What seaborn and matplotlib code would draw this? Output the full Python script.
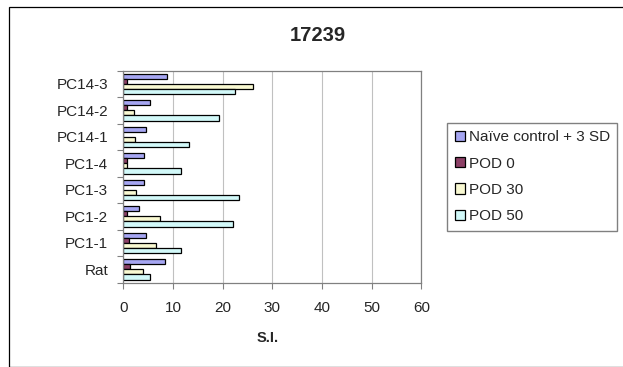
import numpy as np
import pandas as pd
import seaborn as sns
import matplotlib.pyplot as plt
from matplotlib.patches import Rectangle

# values (S.I.)
samples = ["PC14-3", "PC14-2", "PC14-1", "PC1-4", "PC1-3", "PC1-2", "PC1-1", "Rat"]
series = ["Naïve control + 3 SD", "POD 0", "POD 30", "POD 50"]
naive_ctrl = [8.7, 5.3, 4.5, 4.2, 4.2, 3.2, 4.5, 8.3]
pod_0 = [0.7, 0.7, 0.0, 0.7, 0.0, 0.7, 1.1, 1.4]
pod_30 = [26.1, 2.1, 2.4, 0.8, 2.6, 7.3, 6.5, 3.9]
pod_50 = [22.5, 19.2, 13.2, 11.7, 23.3, 22.1, 11.7, 5.3]
colors = ["#9999FF", "#993366", "#FFFFCC", "#CCFFFF"]

rows = []
for name, vals in zip(series, [naive_ctrl, pod_0, pod_30, pod_50]):
	for s, v in zip(samples, vals):
		rows.append({"sample": s, "series": name, "SI": v})
df = pd.DataFrame(rows)

sns.set_style("white")
plt.rcParams['font.family'] = ['Liberation Sans', 'DejaVu Sans']

fig = plt.figure(figsize=(6.23, 3.67), dpi=100)
ax = fig.add_axes([123.3/623, 1-282.7/367, (421.3-123.3)/623, (282.7-70.7)/367])

sns.barplot(data=df, x="SI", y="sample", hue="series", order=samples, hue_order=series,
	palette=colors, edgecolor="black", linewidth=0.9, width=0.76, orient="h", ax=ax)

ax.set_xlim(0, 60)
ax.set_xticks(np.arange(0, 61, 10))
ax.set_ylim(len(samples)-0.5, -0.5)
ax.set_yticks(np.arange(-0.5, len(samples)), minor=True)
ax.xaxis.grid(True, color="#c0c0c0", linewidth=0.8)
ax.set_axisbelow(True)
for sp in ax.spines.values():
	sp.set_visible(True)
	sp.set_color("#808080")
	sp.set_linewidth(0.9)
ax.tick_params(axis="x", which="major", length=4, color="#808080", width=0.8, pad=9, labelsize=11, bottom=True)
ax.tick_params(axis="y", which="major", length=0, pad=11, labelsize=11)
ax.tick_params(axis="y", which="minor", length=4, color="#808080", width=0.8, left=True)
ax.set_xlabel("")
ax.set_ylabel("")

handles, labels = ax.get_legend_handles_labels()
ax.get_legend().remove()
fig.legend(handles, labels, loc="upper left", bbox_to_anchor=(447.3/623, 1-122.7/367),
	fontsize=11, frameon=True, fancybox=False, edgecolor="#808080", framealpha=1,
	handlelength=0.65, handleheight=0.65, handletextpad=0.25, labelspacing=0.8,
	borderpad=0.5, borderaxespad=0)

fig.text(317.5/623, 1-35.3/367, "17239", ha="center", va="center", fontsize=14.5, fontweight="bold")
fig.text(268/623, 1-338/367, "S.I.", ha="center", va="center", fontsize=10.5, fontweight="bold")

fig.patches.append(Rectangle((8.5/623, 0.5/367), 1.0, (366-6.5)/367, transform=fig.transFigure,
	fill=False, edgecolor="black", linewidth=0.9))

fig.savefig("out.png", dpi=100)
